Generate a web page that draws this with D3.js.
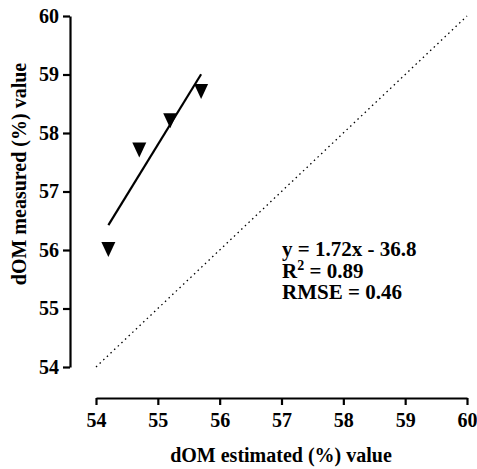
<!DOCTYPE html>
<html>
<head>
<meta charset="utf-8">
<style>
  body { margin: 0; background: #fff; }
  svg { font-family: "Liberation Serif", "Times New Roman", serif; font-weight: bold; }
  .axis path, .axis line { stroke: #000; stroke-width: 2.2px; }
</style>
</head>
<body>
<script src="https://d3js.org/d3.v7.min.js"></script>
<div id="chart"></div>
<script>
// data
var estimated = [54.2, 54.7, 55.2, 55.7];
var measured = [56.0, 57.7, 58.2, 58.7];
var fitSlope = 1.72, fitIntercept = -36.8;
var fitRange = [54.2, 55.7];
var tickValues = [54, 55, 56, 57, 58, 59, 60];
var statLines = ["y = 1.72x - 36.8", "R2 = 0.89", "RMSE = 0.46"];

var width = 477, height = 469;

var svg = d3.select("#chart").append("svg")
    .attr("width", width)
    .attr("height", height);

var x = d3.scaleLinear().domain([54, 60]).range([96, 467]);
var y = d3.scaleLinear().domain([54, 60]).range([367, 16]);

function axisFont(g) {
  g.attr("font-family", "'Liberation Serif', 'Times New Roman', serif")
   .attr("font-size", 20)
   .attr("font-weight", "bold");
  g.selectAll("text").attr("fill", "#000").style("font-weight", "bold");
}

// axes, offset from the plot like the original
svg.append("g")
    .attr("class", "axis")
    .attr("transform", "translate(0,398)")
    .call(d3.axisBottom(x).tickValues(tickValues).tickFormat(d3.format("d"))
      .tickSize(7).tickSizeOuter(0).tickPadding(5))
    .call(axisFont)
    .call(g => g.selectAll("text").attr("dy", "0.85em"));

svg.append("g")
    .attr("class", "axis")
    .attr("transform", "translate(70,0)")
    .call(d3.axisLeft(y).tickValues(tickValues).tickFormat(d3.format("d"))
      .tickSize(7).tickSizeOuter(0).tickPadding(4))
    .call(axisFont);

// 1:1 line
svg.append("line")
    .attr("x1", x(54)).attr("y1", y(54))
    .attr("x2", x(60)).attr("y2", y(60))
    .attr("stroke", "#000")
    .attr("stroke-width", 1.3)
    .attr("stroke-dasharray", "1.5,3.5");

// regression line
svg.append("line")
    .attr("x1", x(fitRange[0])).attr("y1", y(fitSlope * fitRange[0] + fitIntercept))
    .attr("x2", x(fitRange[1])).attr("y2", y(fitSlope * fitRange[1] + fitIntercept))
    .attr("stroke", "#000")
    .attr("stroke-width", 2.2);

// down triangles
svg.selectAll("path.pt")
    .data(estimated)
    .enter()
    .append("path")
      .attr("class", "pt")
      .attr("d", "M-7,-8L7,-8L0,7Z")
      .attr("transform", function(d, i) { return "translate(" + x(d) + "," + y(measured[i]) + ")"; })
      .attr("fill", "#000");

// stats text
var stats = svg.append("g").attr("transform", "translate(282,256)")
    .style("font-size", "21px");
stats.append("text").attr("y", 0).text(statLines[0]);
var r2 = stats.append("text").attr("y", 21.5);
r2.append("tspan").text("R");
r2.append("tspan").attr("dy", -8).style("font-size", "14px").text("2");
r2.append("tspan").attr("dy", 8).text(" = 0.89");
stats.append("text").attr("y", 43).text(statLines[2]);

// axis titles
svg.append("text")
    .attr("x", 281)
    .attr("y", 462)
    .attr("text-anchor", "middle")
    .style("font-size", "20px")
    .text("dOM estimated (%) value");

svg.append("text")
    .attr("transform", "translate(26,174) rotate(-90)")
    .attr("text-anchor", "middle")
    .style("font-size", "20px")
    .text("dOM measured (%) value");
</script>
</body>
</html>
